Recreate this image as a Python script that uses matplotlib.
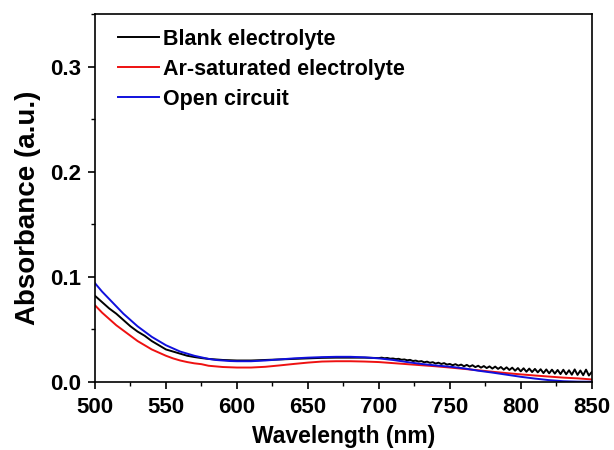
import matplotlib
matplotlib.use("Agg")
import matplotlib.pyplot as plt
from matplotlib.ticker import MultipleLocator

plt.rcParams['font.family'] = ['Liberation Sans', 'DejaVu Sans']
plt.rcParams['font.weight'] = 'bold'

# Open circuit (blue)
wl_blue = [500, 505, 510, 515, 520, 525, 530, 535, 540, 545, 550, 555, 560, 565, 570, 575,
           580, 585, 590, 595, 600, 610, 620, 630, 640, 650, 660, 670, 680, 690, 700, 710,
           720, 730, 740, 750, 760, 770, 780, 790, 800, 810, 820, 830, 840, 850]
abs_blue = [0.094, 0.086, 0.079, 0.072, 0.065, 0.059, 0.053, 0.048, 0.043, 0.039, 0.035,
            0.032, 0.029, 0.027, 0.025, 0.0235, 0.022, 0.021, 0.0205, 0.020, 0.0198, 0.0198,
            0.0205, 0.0215, 0.0225, 0.0232, 0.0237, 0.024, 0.024, 0.0235, 0.0225, 0.021,
            0.019, 0.0172, 0.0158, 0.0146, 0.013, 0.0108, 0.009, 0.007, 0.005, 0.0033,
            0.0018, 0.0008, 0.0004, 0.0003]

# Ar-saturated electrolyte (red)
wl_red = [500, 505, 510, 515, 520, 525, 530, 535, 540, 545, 550, 555, 560, 565, 570, 575,
          580, 590, 600, 610, 620, 630, 640, 650, 660, 670, 680, 690, 700, 710, 720, 730,
          740, 750, 760, 770, 780, 790, 800, 810, 820, 830, 840, 850]
abs_red = [0.073, 0.066, 0.060, 0.054, 0.049, 0.044, 0.039, 0.035, 0.031, 0.028, 0.025,
           0.0225, 0.0205, 0.019, 0.0178, 0.017, 0.0155, 0.0143, 0.0138, 0.0138, 0.0145,
           0.0158, 0.0172, 0.0185, 0.0195, 0.0198, 0.0198, 0.0195, 0.019, 0.018, 0.017,
           0.016, 0.015, 0.0138, 0.0125, 0.0112, 0.0098, 0.0085, 0.0073, 0.0062, 0.0052,
           0.0042, 0.0035, 0.0025]

# Blank electrolyte (black)
wl_black = [500, 505, 510, 515, 520, 525, 530, 535, 540, 545, 550, 555, 560, 565, 570, 575,
            580, 590, 600, 610, 620, 630, 640, 650, 660, 670, 680, 690,
            700, 702, 704, 706, 708, 710, 712, 714, 716, 718, 720, 722, 724, 726, 728, 730,
            732, 734, 736, 738, 740, 742, 744, 746, 748, 750, 752, 754, 756, 758, 760, 762,
            764, 766, 768, 770, 772, 774, 776, 778, 780, 782, 784, 786, 788, 790, 792, 794,
            796, 798, 800, 802, 804, 806, 808, 810, 812, 814, 816, 818, 820, 822, 824, 826,
            828, 830, 832, 834, 836, 838, 840, 842, 844, 846, 848, 850]
abs_black = [0.082, 0.076, 0.070, 0.065, 0.059, 0.053, 0.048, 0.044, 0.039, 0.035, 0.031,
             0.029, 0.027, 0.025, 0.0238, 0.0228, 0.022, 0.021, 0.0205, 0.0205, 0.021,
             0.0215, 0.022, 0.0225, 0.023, 0.0232, 0.0232, 0.0232,
             0.0228, 0.0232, 0.0226, 0.0229, 0.0222, 0.0224, 0.0218, 0.0221, 0.0212, 0.0215,
             0.0207, 0.0211, 0.0200, 0.0204, 0.0195, 0.0199, 0.0188, 0.0194, 0.0183, 0.0189,
             0.0176, 0.0184, 0.0172, 0.0180, 0.0166, 0.0172, 0.0160, 0.0170, 0.0156, 0.0166,
             0.0150, 0.0163, 0.0147, 0.0160, 0.0142, 0.0155, 0.0137, 0.0152, 0.0133, 0.0149,
             0.0128, 0.0147, 0.0125, 0.0143, 0.0118, 0.0140, 0.0115, 0.0137, 0.0108, 0.0133,
             0.0102, 0.0131, 0.0098, 0.0128, 0.0095, 0.0125, 0.0092, 0.0122, 0.0085, 0.0120,
             0.0083, 0.0118, 0.0080, 0.0115, 0.0076, 0.0117, 0.0074, 0.0112, 0.0070, 0.0120,
             0.0068, 0.0110, 0.0065, 0.0118, 0.0062, 0.0095]

labels = ["Blank electrolyte", "Ar-saturated electrolyte", "Open circuit"]

fig = plt.figure(figsize=(6.14, 4.5), dpi=100)
ax = fig.add_axes([0.1547, 0.151, 0.809, 0.818])

ax.plot(wl_black, abs_black, color='black', lw=1.4, label=labels[0])
ax.plot(wl_red, abs_red, color='#ee1111', lw=1.4, label=labels[1])
ax.plot(wl_blue, abs_blue, color='#1010dd', lw=1.4, label=labels[2])

ax.set_xlim(500, 850)
ax.set_ylim(0, 0.35)
ax.xaxis.set_major_locator(MultipleLocator(50))
ax.xaxis.set_minor_locator(MultipleLocator(25))
ax.yaxis.set_major_locator(MultipleLocator(0.1))
ax.yaxis.set_minor_locator(MultipleLocator(0.05))
ax.tick_params(which='major', direction='out', length=5, width=1.2, labelsize=16)
ax.tick_params(axis='x', which='major', pad=6)
ax.tick_params(axis='y', which='major', pad=5)
ax.tick_params(which='minor', direction='out', length=3, width=1.0)
ax.tick_params(top=False, right=False)
for lab in ax.get_xticklabels() + ax.get_yticklabels():
    lab.set_fontweight('bold')
for s in ax.spines.values():
    s.set_linewidth(1.2)

ax.set_xlabel("Wavelength (nm)", fontsize=16.5, fontweight='bold', labelpad=5)
ax.set_ylabel("Absorbance (a.u.)", fontsize=20, fontweight='bold')
ax.yaxis.set_label_coords(-0.108, 0.474)

leg = ax.legend(loc='upper left', bbox_to_anchor=(0.02, 0.995), frameon=False,
                prop={'size': 15.5, 'weight': 'bold'}, handlelength=1.9,
                handletextpad=0.2, labelspacing=0.42, borderaxespad=0.2)
for h in leg.get_lines():
    h.set_linewidth(1.4)

fig.savefig("out.png", dpi=100, facecolor='white')
